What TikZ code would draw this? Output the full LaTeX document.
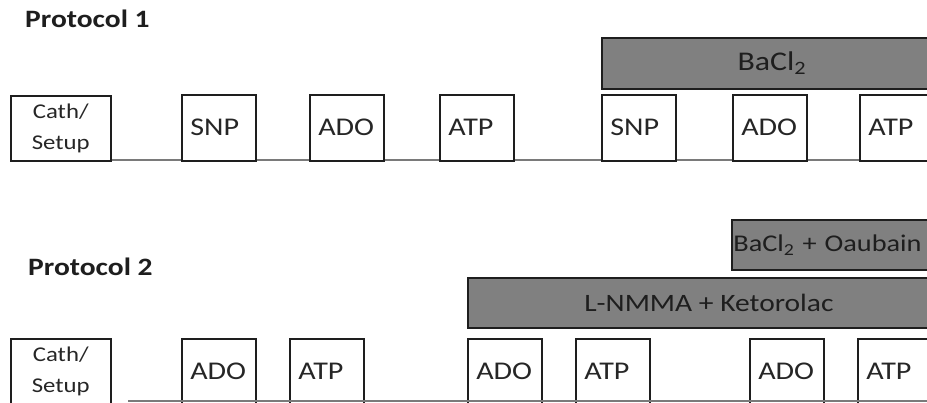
\documentclass[tikz,border=0pt]{standalone}
\usepackage{fontspec}
\setmainfont{Carlito}[FakeStretch=1.18]
\usepackage{xcolor}
\usetikzlibrary{positioning}
\definecolor{ink}{HTML}{1E1E1E}
\definecolor{inksoft}{HTML}{262626}
\definecolor{shade}{HTML}{808080}
\definecolor{rule}{HTML}{7A7A7A}
\tikzset{
  heading/.style  = {font=\fontsize{25}{28}\selectfont\bfseries, text=ink, anchor=base west, inner sep=0pt},
  stage/.style    = {draw=ink, line width=1.5pt, fill=white, rectangle, anchor=north west,
                     text width=57pt, inner xsep=8.5pt, minimum height=66pt, align=left,
                     font=\fontsize{25.5}{30}\selectfont, text=inksoft},
  setup/.style    = {stage, text width=84pt, inner xsep=8pt, minimum height=65pt, align=center,
                     font=\fontsize{21}{31}\selectfont},
  drug/.style     = {draw=ink, line width=1.8pt, fill=shade, rectangle, anchor=north west,
                     inner sep=0pt, minimum height=51pt, font=\fontsize{27}{30}\selectfont, text=ink},
  timeline/.style = {draw=rule, line width=2pt},
}

\begin{document}
\begin{tikzpicture}[x=1pt, y=-1pt]
  \clip (0,0) rectangle (927,402);
  \fill[white] (0,0) rectangle (927,402);

  % protocol 1
  \node[heading] (p1) at (25,27) {Protocol 1};
  \node[drug, minimum width=340pt] (bacl) at (601,37) {BaCl\textsubscript{2}};
  \coordinate (t1a) at (10,160);
  \coordinate (t1b) at (927,160);
  \draw[timeline] (t1a) -- (t1b);
  \node[setup] (cath1) at (10,95) {Cath/\\Setup};
  \node[stage] (snp1) at (181,94) {SNP};
  \node[stage] (ado1) at (309,94) {ADO};
  \node[stage] (atp1) at (439,94) {ATP};
  \node[stage] (snp2) at (601,94) {SNP};
  \node[stage] (ado2) at (732,94) {ADO};
  \node[stage] (atp2) at (859,94) {ATP};

  % protocol 2
  \node[heading] (p2) at (28,275) {Protocol 2};
  \node[drug, text width=194pt, align=left, inner xsep=1.5pt, minimum height=50pt,
        font=\fontsize{24}{30}\selectfont] (bacloua) at (731,219)
    {\mbox{BaCl\textsubscript{2} + Oaubain}};
  \node[drug, minimum width=482pt, minimum height=50pt, font=\fontsize{25}{30}\selectfont] (lnmma) at (467,277)
    {L-NMMA + Ketorolac};
  \node[setup] (cath2) at (10,338) {Cath/\\Setup};
  \node[stage] (ado3) at (181,338) {ADO};
  \node[stage] (atp3) at (289,338) {ATP};
  \node[stage] (ado4) at (467,338) {ADO};
  \node[stage] (atp4) at (575,338) {ATP};
  \node[stage] (ado5) at (749,338) {ADO};
  \node[stage] (atp5) at (857,338) {ATP};
  \coordinate (t2a) at (128,401);
  \coordinate (t2b) at (927,401);
  \draw[timeline] (t2a) -- (t2b);
\end{tikzpicture}
\end{document}
